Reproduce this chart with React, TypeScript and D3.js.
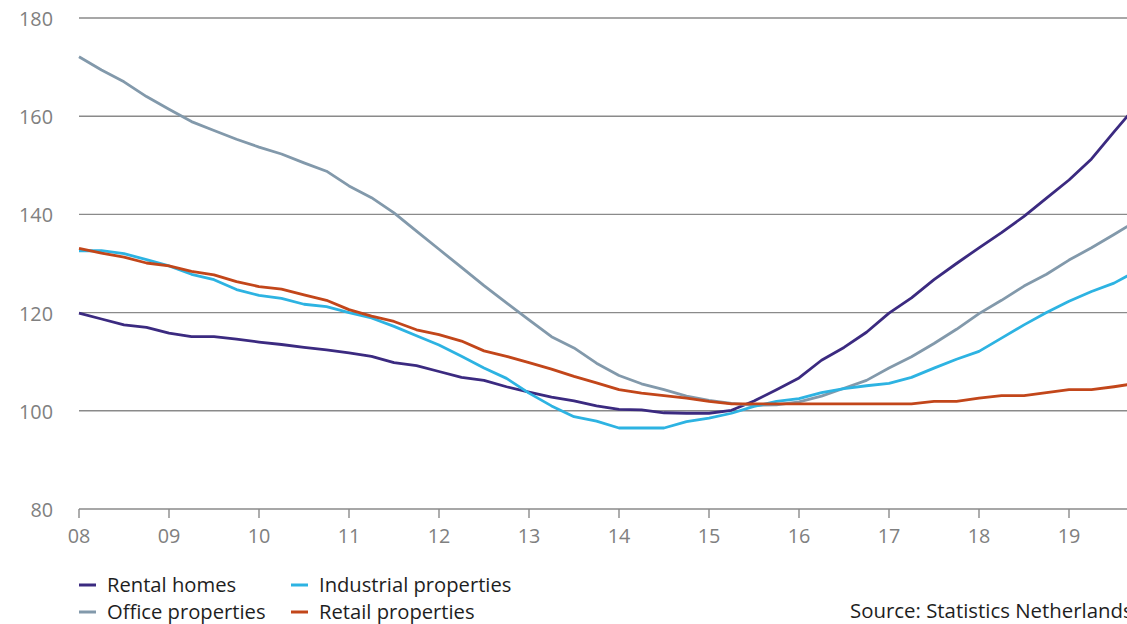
import React from "react";
import * as d3 from "d3";

const startYear = 2008;
const quartersPerYear = 4;

const rentalHomes = [
  119.9, 118.7, 117.5, 117.0, 115.8, 115.1, 115.1, 114.6, 114.0, 113.5, 112.9, 112.4,
  111.8, 111.1, 109.8, 109.2, 108.0, 106.8, 106.2, 104.9, 103.8, 102.8, 102.0, 101.0,
  100.3, 100.2, 99.6, 99.5, 99.5, 100.1, 102.0, 104.3, 106.7, 110.3, 112.9, 116.0,
  119.9, 123.0, 126.7, 130.0, 133.2, 136.3, 139.6, 143.3, 147.0, 151.3, 156.8, 162.2,
];
const officeProperties = [
  172.1, 169.4, 167.0, 164.0, 161.4, 158.9, 157.1, 155.3, 153.7, 152.3, 150.5, 148.8,
  145.8, 143.4, 140.3, 136.6, 132.9, 129.2, 125.5, 122.0, 118.5, 115.1, 112.8, 109.7,
  107.2, 105.5, 104.3, 103.0, 102.1, 101.5, 101.1, 101.2, 101.8, 103.0, 104.6, 106.2,
  108.7, 111.0, 113.7, 116.6, 119.8, 122.5, 125.4, 127.8, 130.7, 133.2, 135.9, 138.7,
];
const industrialProperties = [
  132.6, 132.6, 132.0, 130.8, 129.5, 127.8, 126.7, 124.7, 123.5, 122.9, 121.7, 121.2,
  120.0, 118.9, 117.2, 115.3, 113.4, 111.1, 108.7, 106.6, 103.6, 101.0, 98.8, 97.9,
  96.5, 96.5, 96.5, 97.8, 98.5, 99.5, 100.9, 101.9, 102.5, 103.7, 104.5, 105.1,
  105.6, 106.8, 108.7, 110.5, 112.1, 114.8, 117.5, 120.0, 122.3, 124.3, 126.0, 128.5,
];
const retailProperties = [
  133.1, 132.1, 131.3, 130.1, 129.5, 128.4, 127.7, 126.3, 125.3, 124.8, 123.6, 122.5,
  120.6, 119.3, 118.2, 116.5, 115.5, 114.2, 112.2, 111.1, 109.8, 108.5, 107.0, 105.7,
  104.3, 103.6, 103.1, 102.6, 101.9, 101.4, 101.4, 101.4, 101.4, 101.4, 101.4, 101.4,
  101.4, 101.4, 101.9, 101.9, 102.6, 103.1, 103.1, 103.7, 104.3, 104.3, 104.9, 105.6,
];

const seriesNames = ["Rental homes", "Office properties", "Industrial properties", "Retail properties"];
const seriesColors = ["#3b2a80", "#8299ab", "#2db3e2", "#c2461a"];
const seriesValues = [rentalHomes, officeProperties, industrialProperties, retailProperties];

const yTicks = [80, 100, 120, 140, 160, 180];
const xTickYears = [2008, 2009, 2010, 2011, 2012, 2013, 2014, 2015, 2016, 2017, 2018, 2019];
const xTickLabels = ["08", "09", "10", "11", "12", "13", "14", "15", "16", "17", "18", "19"];
const sourceText = "Source: Statistics Netherlands";

const W = 1127;
const H = 624;
const FONT = "'Open Sans', 'Noto Sans', sans-serif";

export default function App() {
  const x = d3.scaleLinear().domain([2008, 2020]).range([79, 79 + 12 * 90]);
  const y = d3.scaleLinear().domain([80, 180]).range([509, 18]);

  const line = d3
    .line<number>()
    .x((_, i) => x(startYear + i / quartersPerYear))
    .y((d) => y(d));

  const legendPos = [
    { x: 79, y: 585 },
    { x: 79, y: 612 },
    { x: 291, y: 585 },
    { x: 291, y: 612 },
  ];

  return (
    <svg
      width={W}
      height={H}
      style={{ position: "absolute", left: 0, top: 0, background: "#fff" }}
      fontFamily={FONT}
    >
      {yTicks.map((t) => (
        <g key={"y" + t}>
          <line x1={79} x2={W} y1={y(t)} y2={y(t)} stroke="#8a8a8a" strokeWidth={1.4} />
          <text x={53} y={y(t) + 8} textAnchor="end" fontSize={19.8} fill="#808080">
            {t}
          </text>
        </g>
      ))}
      {xTickYears.map((yr, i) => (
        <g key={"x" + yr}>
          <line x1={x(yr)} x2={x(yr)} y1={y(80)} y2={y(80) + 9} stroke="#8a8a8a" strokeWidth={1.4} />
          <text x={x(yr)} y={543} textAnchor="middle" fontSize={19.8} fill="#808080">
            {xTickLabels[i]}
          </text>
        </g>
      ))}
      {seriesValues.map((vals, si) => (
        <path
          key={seriesNames[si]}
          d={line(vals) || ""}
          fill="none"
          stroke={seriesColors[si]}
          strokeWidth={2.8}
          strokeLinejoin="round"
        />
      ))}
      {seriesNames.map((name, si) => (
        <g key={"lg" + name}>
          <line
            x1={legendPos[si].x}
            x2={legendPos[si].x + 17}
            y1={legendPos[si].y}
            y2={legendPos[si].y}
            stroke={seriesColors[si]}
            strokeWidth={3}
          />
          <text x={legendPos[si].x + 28} y={legendPos[si].y + 7} fontSize={20.2} fill="#1e1e1e">
            {name}
          </text>
        </g>
      ))}
      <text x={850} y={618} fontSize={20.4} fill="#1e1e1e">
        {sourceText}
      </text>
    </svg>
  );
}
